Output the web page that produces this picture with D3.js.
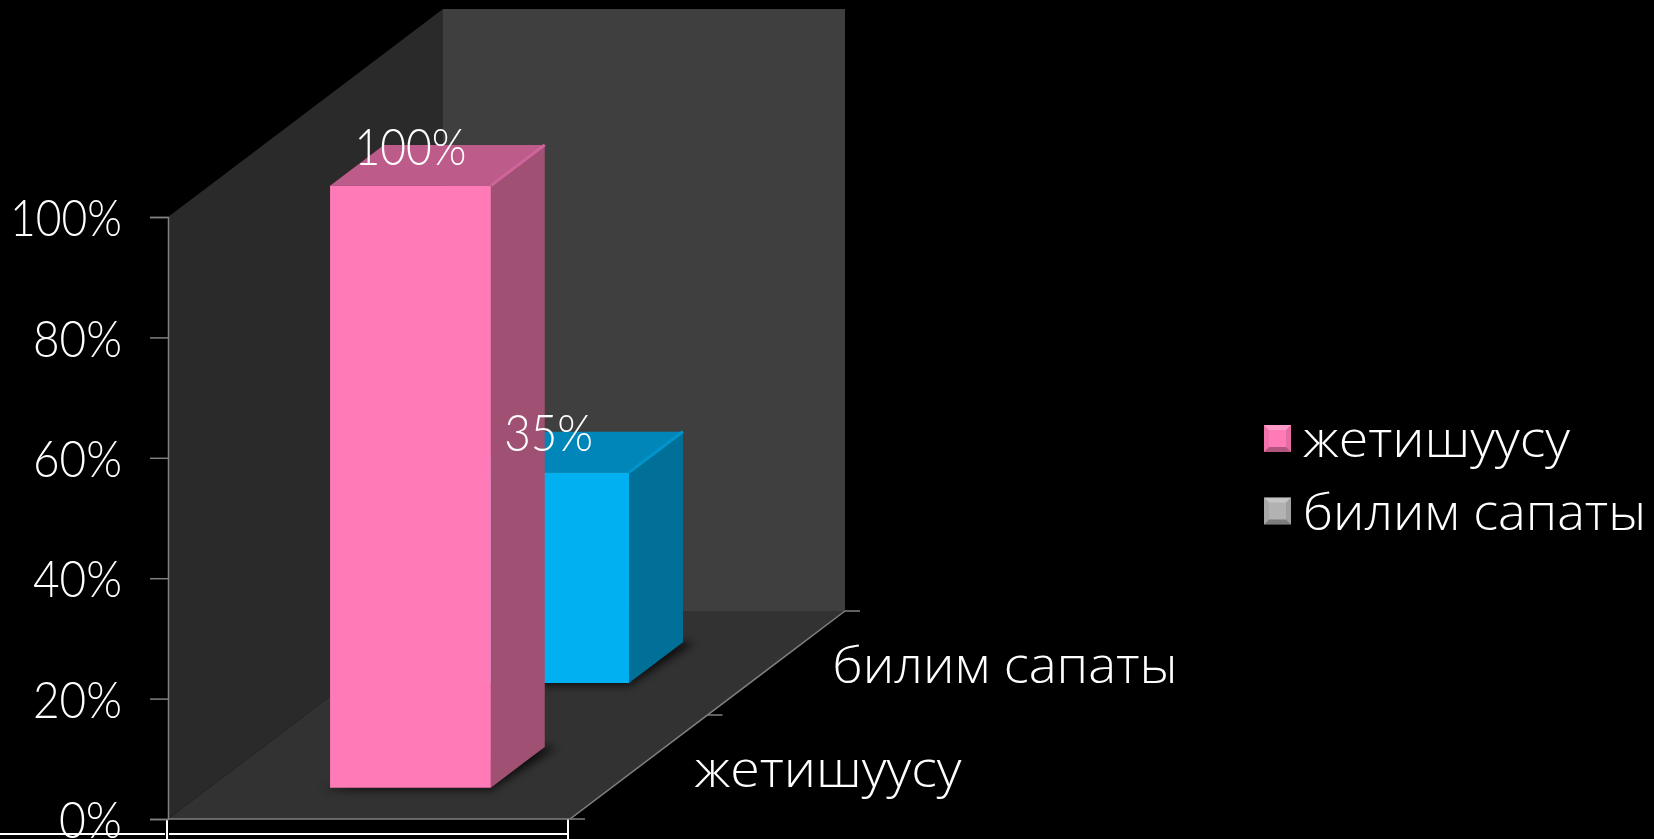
<!DOCTYPE html>
<html>
<head>
<meta charset="utf-8">
<script src="https://cdn.jsdelivr.net/npm/d3@7"></script>
<style>
    html, body { margin: 0; padding: 0; background: #000; overflow: hidden; }
    svg { display: block; }
    text { fill: #fff; font-family: "Open Sans", sans-serif; font-weight: 300; }
    .number { font-family: Lato, "Open Sans", sans-serif; font-weight: 300; }
</style>
</head>
<body>
<svg id="chart" width="1654" height="839"></svg>
<script>
const categories = ['жетишуусу', 'билим сапаты'];
const values = [100, 35];
const valueTicks = [0, 20, 40, 60, 80, 100];
const legendLabels = ['жетишуусу', 'билим сапаты'];

const frontFill = ['#ff7ab6', '#00b0f0'];
const sideFill = ['#a05073', '#007099'];
const topFill = ['#bd5c8b', '#0086b8'];
const edgeFill = ['#d0659b', '#0095cc'];
const legendFill = ['#ff7ab6', '#b2b2b2'];

// oblique projection of the 3d box
const box = { left: 168, bottom: 819, width: 402, height: 602, depthX: 275, depthY: 208 };

const svg = d3.select('#chart');

let defs = svg.append('defs');
defs.append('filter')
    .attr('id', 'shadow')
    .attr('x', '-20%').attr('y', '-20%').attr('width', '140%').attr('height', '140%')
    .append('feGaussianBlur')
    .attr('stdDeviation', 4);

let yScale = d3.scaleLinear().domain([0, 100]).range([box.bottom, box.bottom - box.height]);
let uScale = d3.scaleBand().domain(['all']).range([0, box.width]).paddingInner(0.6).paddingOuter(0.3);
let depthScale = d3.scaleBand().domain(categories).range([0, 1]).paddingInner(0.61).paddingOuter(0.3);

// u: px along the front edge, v: percent value, d: 0..1 into the depth
function project(u, v, d)
{
    return [box.left + u + d * box.depthX, yScale(v) - d * box.depthY];
}

function poly(points)
{
    return points.map(function(p){ return project(p[0], p[1], p[2]).join(','); }).join(' ');
}

// the original font has narrow digits, so squeeze the numbers to the same width
function numberWidth(value)
{
    if(value == 0)
        return 63;
    return value == 100 ? 112 : 89;
}

// walls and floor
svg.append('polygon')
    .attr('points', poly([[0, 0, 0], [0, 0, 1], [0, 100, 1], [0, 100, 0]]))
    .attr('fill', '#2a2a2a');
svg.append('polygon')
    .attr('points', poly([[0, 0, 1], [box.width, 0, 1], [box.width, 100, 1], [0, 100, 1]]))
    .attr('fill', '#3f3f3f');
svg.append('polygon')
    .attr('points', poly([[0, 0, 0], [box.width, 0, 0], [box.width, 0, 1], [0, 0, 1]]))
    .attr('fill', '#323232');

// white frame lines under the plot
svg.append('path')
    .attr('d', 'M0,834H165M169,834H567M167,819V839M568,819V839')
    .attr('fill', 'none')
    .attr('stroke', '#fff')
    .attr('stroke-width', 2);

// value axis
let yAxis = d3.axisLeft(yScale)
    .tickValues(valueTicks)
    .tickSize(18)
    .tickPadding(28)
    .tickFormat(function(d){ return d + '%'; });

let yGroup = svg.append('g')
    .attr('transform', 'translate(' + box.left + ',0)')
    .call(yAxis);

yGroup.selectAll('.domain, line').attr('stroke', '#808080').attr('stroke-width', 1.5);
yGroup.selectAll('text')
    .attr('class', 'number')
    .attr('fill', '#fff')
    .attr('textLength', function(d){ return numberWidth(d); })
    .attr('lengthAdjust', 'spacingAndGlyphs')
    .style('font-size', '52px')
    .attr('dy', '0.36em');

// floor edges and depth axis
svg.append('path')
    .attr('d', 'M' + project(0, 0, 0) + 'L' + project(box.width, 0, 0) + 'L' + project(box.width, 0, 1))
    .attr('fill', 'none')
    .attr('stroke', '#808080')
    .attr('stroke-width', 1.5);

svg.selectAll('.depth-tick')
    .data([0, 0.5, 1])
    .enter()
    .append('line')
    .attr('class', 'depth-tick')
    .attr('x1', function(d){ return project(box.width, 0, d)[0]; })
    .attr('x2', function(d){ return project(box.width, 0, d)[0] + 15; })
    .attr('y1', function(d){ return project(box.width, 0, d)[1]; })
    .attr('y2', function(d){ return project(box.width, 0, d)[1]; })
    .attr('stroke', '#808080')
    .attr('stroke-width', 1.5);

svg.selectAll('.depth-label')
    .data(categories)
    .enter()
    .append('text')
    .attr('class', 'depth-label')
    .attr('x', function(d){ return project(box.width, 0, depthScale(d) + depthScale.bandwidth() / 2)[0] + 56; })
    .attr('y', function(d){ return project(box.width, 0, depthScale(d) + depthScale.bandwidth() / 2)[1] + 20; })
    .attr('textLength', function(d, i){ return i == 0 ? 267 : 345; })
    .attr('lengthAdjust', 'spacingAndGlyphs')
    .style('font-size', '50px')
    .text(function(d){ return d; });

// bars, back one first so the front one covers it
let barData = categories.map(function(c, i){
    return { category: c, value: values[i], index: i };
}).reverse();

let bars = svg.selectAll('.bar')
    .data(barData)
    .enter()
    .append('g')
    .attr('class', 'bar');

let u0 = uScale('all');
let u1 = u0 + uScale.bandwidth();
let band = depthScale.bandwidth();

bars.append('polygon')
    .attr('points', function(d){
        let d0 = depthScale(d.category);
        return poly([[u0 - 6, 0, d0 - 0.01], [u1 + 3, 0, d0 - 0.01], [u1 + 12, 0, d0 + band], [u1, 0, d0 + band]]);
    })
    .attr('fill', '#000')
    .attr('opacity', 0.75)
    .attr('filter', 'url(#shadow)');

// side face
bars.append('polygon')
    .attr('points', function(d){
        let d0 = depthScale(d.category);
        return poly([[u1, 0, d0], [u1, 0, d0 + band], [u1, d.value, d0 + band], [u1, d.value, d0]]);
    })
    .attr('fill', function(d){ return sideFill[d.index]; });

// top face
bars.append('polygon')
    .attr('points', function(d){
        let d0 = depthScale(d.category);
        return poly([[u0, d.value, d0], [u1, d.value, d0], [u1, d.value, d0 + band], [u0, d.value, d0 + band]]);
    })
    .attr('fill', function(d){ return topFill[d.index]; });

// lighter bevel on the top right edge
bars.append('line')
    .attr('x1', function(d){ return project(u1, d.value, depthScale(d.category))[0]; })
    .attr('y1', function(d){ return project(u1, d.value, depthScale(d.category))[1]; })
    .attr('x2', function(d){ return project(u1, d.value, depthScale(d.category) + band)[0]; })
    .attr('y2', function(d){ return project(u1, d.value, depthScale(d.category) + band)[1]; })
    .attr('stroke', function(d){ return edgeFill[d.index]; })
    .attr('stroke-width', 3);

// front face
bars.append('polygon')
    .attr('points', function(d){
        let d0 = depthScale(d.category);
        return poly([[u0, 0, d0], [u1, 0, d0], [u1, d.value, d0], [u0, d.value, d0]]);
    })
    .attr('fill', function(d){ return frontFill[d.index]; });

// value labels sit over everything else
svg.selectAll('.value-label')
    .data(barData)
    .enter()
    .append('text')
    .attr('class', 'value-label number')
    .attr('text-anchor', 'middle')
    .attr('x', function(d){ return project((u0 + u1) / 2, d.value, depthScale(d.category))[0]; })
    .attr('y', function(d){ return project((u0 + u1) / 2, d.value, depthScale(d.category))[1] - 21; })
    .attr('textLength', function(d){ return numberWidth(d.value); })
    .attr('lengthAdjust', 'spacingAndGlyphs')
    .style('font-size', '52px')
    .text(function(d){ return d.value + '%'; });

// legend
let legend = svg.selectAll('.legend')
    .data(legendLabels)
    .enter()
    .append('g')
    .attr('class', 'legend')
    .attr('transform', function(d, i){ return 'translate(1264,' + (425 + i * 72.5) + ')'; });

let swatch = 27;
let bevel = 5;
let shades = [
    { pts: [[0, 0], [swatch, 0], [swatch - bevel, bevel], [bevel, bevel]], color: '#ffffff', opacity: 0.25 },
    { pts: [[0, 0], [bevel, bevel], [bevel, swatch - bevel], [0, swatch]], color: '#000000', opacity: 0.05 },
    { pts: [[swatch, 0], [swatch, swatch], [swatch - bevel, swatch - bevel], [swatch - bevel, bevel]], color: '#000000', opacity: 0.1 },
    { pts: [[0, swatch], [bevel, swatch - bevel], [swatch - bevel, swatch - bevel], [swatch, swatch]], color: '#000000', opacity: 0.3 }
];

legend.append('rect')
    .attr('width', swatch)
    .attr('height', swatch)
    .attr('fill', function(d, i){ return legendFill[i]; });

legend.selectAll('.bevel')
    .data(shades)
    .enter()
    .append('polygon')
    .attr('class', 'bevel')
    .attr('points', function(d){ return d.pts.join(' '); })
    .attr('fill', function(d){ return d.color; })
    .attr('opacity', function(d){ return d.opacity; });

legend.append('text')
    .attr('x', 39)
    .attr('y', 32)
    .attr('textLength', function(d, i){ return i == 0 ? 267 : 343; })
    .attr('lengthAdjust', 'spacingAndGlyphs')
    .style('font-size', '50px')
    .text(function(d){ return d; });
</script>
</body>
</html>
